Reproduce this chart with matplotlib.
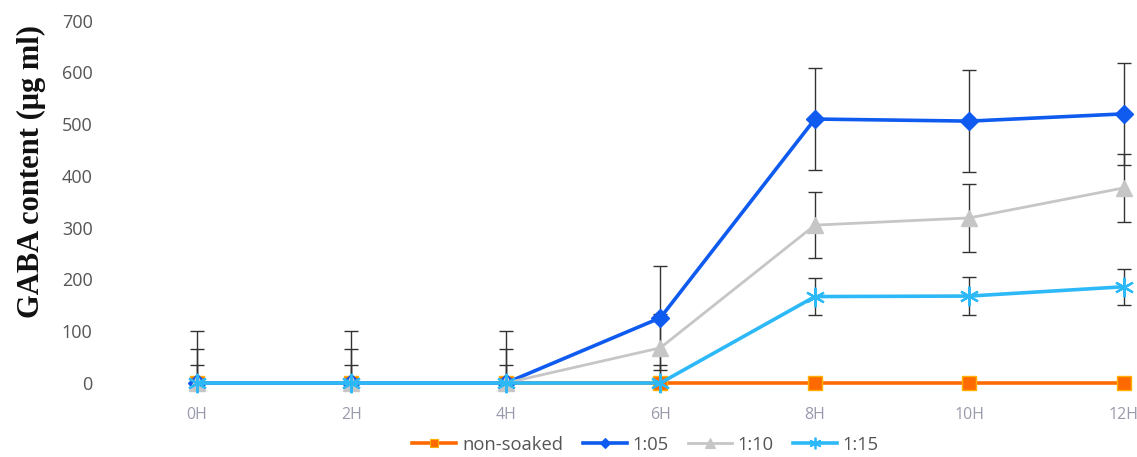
import matplotlib
matplotlib.use("Agg")
import matplotlib.pyplot as plt
from matplotlib.lines import Line2D

# Soaking time points
hours = ["0H", "2H", "4H", "6H", "8H", "10H", "12H"]

# GABA content per soaking ratio (μg/ml) and standard deviations
non_soaked = [0, 0, 0, 0, 0, 0, 0]
ratio_1_05 = [0, 0, 0, 126, 510, 506, 520]
ratio_1_05_err = [100, 100, 100, 100, 98, 98, 98]
ratio_1_10 = [0, 0, 0, 68, 305, 319, 377]
ratio_1_10_err = [66, 66, 66, 66, 64, 66, 65]
ratio_1_15 = [0, 0, 0, 0, 167, 168, 186]
ratio_1_15_err = [35, 35, 35, 35, 36, 36, 35]

series_names = ["non-soaked", "1:05", "1:10", "1:15"]
y_ticks = [0, 100, 200, 300, 400, 500, 600, 700]

fig = plt.figure(figsize=(11.37, 4.57), dpi=100)
ax = fig.add_axes([0.0985, 0.1619, 0.9008, 0.7928])

x = list(range(len(hours)))
err_kw = dict(fmt="none", ecolor="#333333", elinewidth=1.0, capsize=5,
              capthick=1.0, zorder=2)

# error bars are clipped at the axis floor, lines and markers are not
ax.errorbar(x, ratio_1_05, yerr=ratio_1_05_err, **err_kw)
ax.errorbar(x, ratio_1_10, yerr=ratio_1_10_err, **err_kw)
ax.errorbar(x, ratio_1_15, yerr=ratio_1_15_err, **err_kw)

styles = [
    dict(color="#FF6A00", lw=2.6, marker="s", ms=10, mfc="#FF6A00",
         mec="#FFB000", mew=1.0),
    dict(color="#0F5BF0", lw=2.6, marker="D", ms=9),
    dict(color="#C6C6C6", lw=2.0, marker="^", ms=11),
    dict(color="#2DB9F7", lw=2.6, marker=(6, 2, 0), ms=14, mew=1.6),
]
for vals, name, st, z in zip([non_soaked, ratio_1_05, ratio_1_10, ratio_1_15],
                             series_names, styles, [3, 4, 4, 5]):
    ax.plot(x, vals, label=name, clip_on=False, zorder=z, **st)

ax.set_xlim(-0.55, 6.08)
ax.set_ylim(0, 700)
ax.set_yticks(y_ticks)
ax.set_xticks(x)
ax.set_xticklabels(hours)
for s in ax.spines.values():
    s.set_visible(False)
ax.tick_params(axis="y", length=0, pad=14, labelsize=13, labelcolor="#555555")
ax.tick_params(axis="x", length=0, pad=17, labelsize=11.5, labelcolor="#9A9AAE")
for lab in ax.get_yticklabels() + ax.get_xticklabels():
    lab.set_family("Open Sans")

ax.set_ylabel("GABA content (μg ml)", family="Liberation Serif",
              fontweight="bold", fontsize=22, color="#111111")
ax.yaxis.set_label_coords(-0.064, 0.585)

# legend with smaller markers
leg_handles = []
for name, st in zip(series_names, styles):
    st2 = dict(st)
    st2["ms"] = st["ms"] * 0.6
    st2["mew"] = st.get("mew", 1.0) * 0.8
    leg_handles.append(Line2D([], [], label=name, **st2))
leg = ax.legend(handles=leg_handles, loc="upper center",
                bbox_to_anchor=(0.521, -0.1), ncol=4, frameon=False,
                prop={"family": "Open Sans", "size": 13.2},
                handlelength=2.4, columnspacing=1.07, handletextpad=0.3)
for t in leg.get_texts():
    t.set_color("#555555")

fig.savefig("out.png", dpi=100)
